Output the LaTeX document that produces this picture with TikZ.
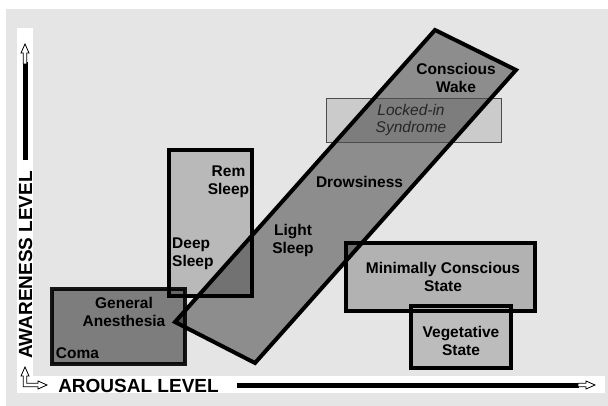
\documentclass[tikz,border=0pt]{standalone}
\usepackage{fontspec}
\setmainfont{Liberation Sans}
\begin{document}
\begin{tikzpicture}[x=1pt,y=-1pt,
  zone/.style={draw=black,line width=4pt,line join=miter},
  lbl/.style={font=\fontsize{15.5}{18}\selectfont\bfseries,align=center,inner sep=0pt,text=black},
  axislbl/.style={font=\fontsize{19}{20}\selectfont\bfseries,inner sep=0pt},
  hollow/.style={draw=black,fill=white,line width=0.8pt,line join=miter},
  axisline/.style={line width=5pt}]
\useasboundingbox (0,0) rectangle (608,406);
% backgrounds
\fill[white] (0,0) rectangle (608,406);
\fill[black!10] (6,9) rectangle (608,406);
\fill[white] (17,28) rectangle (33,393);
\fill[white] (17,376) rectangle (605,393);
% zones with multiply blending
\begin{scope}[blend mode=multiply]
  \fill[black!19] (169,150) rectangle (252,296);
  \fill[black!45] (52,289) rectangle (185,364);
  \fill[black!11] (326,99) rectangle (501,143);
  \fill[black!38] (175,322) -- (435,30) -- (516,70) -- (255,363) -- cycle;
  \fill[black!22] (346,243) rectangle (535,311);
\end{scope}
\fill[black!30,fill opacity=0.8] (411,306) rectangle (511,368);
% borders
\draw[zone] (169,150) rectangle (252,296);
\draw[zone,draw opacity=0.9] (52,289) rectangle (185,364);
\draw[zone] (346,243) rectangle (535,311);
\draw[zone] (411,306) rectangle (511,368);
\draw[black!70,line width=1pt] (326,99) rectangle (501,143);
\draw[zone] (175,322) -- (435,30) -- (516,70) -- (255,363) -- cycle;
% labels
\node[lbl] (wake) at (456,78) {Conscious\\Wake};
\node[lbl,font=\fontsize{15.5}{17}\selectfont\itshape,text=black!85] (locked) at (411,120) {Locked-in\\Syndrome};
\node[lbl] (rem) at (228.5,182) {Rem\\Sleep};
\node[lbl,align=left,anchor=west] (deep) at (172,254) {Deep\\Sleep};
\node[lbl] (light) at (293,240) {Light\\Sleep};
\node[lbl] (drowsy) at (359.5,182) {Drowsiness};
\node[lbl] (anest) at (124,312) {General\\Anesthesia};
\node[lbl] (coma) at (77.5,353) {Coma};
\node[lbl] (mcs) at (443,277) {Minimally Conscious\\State};
\node[lbl] (veg) at (461,341) {Vegetative\\State};
% axes
\node[axislbl] (arousal) at (138.5,386) {AROUSAL LEVEL};
\node[axislbl,rotate=90] (awareness) at (25.5,265) {AWARENESS LEVEL};
\coordinate (hstart) at (237,385);
\coordinate (hend) at (579,385);
\coordinate (vstart) at (25,160);
\coordinate (vend) at (25,62);
\draw[axisline] (hstart) -- (hend);
\draw[axisline] (vstart) -- (vend);
\draw[hollow] (578,383.2) -- (586,383.2) -- (586,381) -- (595,385) -- (586,389) -- (586,386.8) -- (578,386.8) -- cycle;
\draw[hollow] (23.2,64) -- (23.2,53) -- (21,53) -- (25,44) -- (29,53) -- (26.8,53) -- (26.8,64) -- cycle;
\draw[hollow] (23.2,386.8) -- (23.2,376) -- (21,376) -- (25,367) -- (29,376) -- (26.8,376) -- (26.8,383.2)
  -- (38,383.2) -- (38,381) -- (47,385) -- (38,389) -- (38,386.8) -- cycle;
\end{tikzpicture}
\end{document}
